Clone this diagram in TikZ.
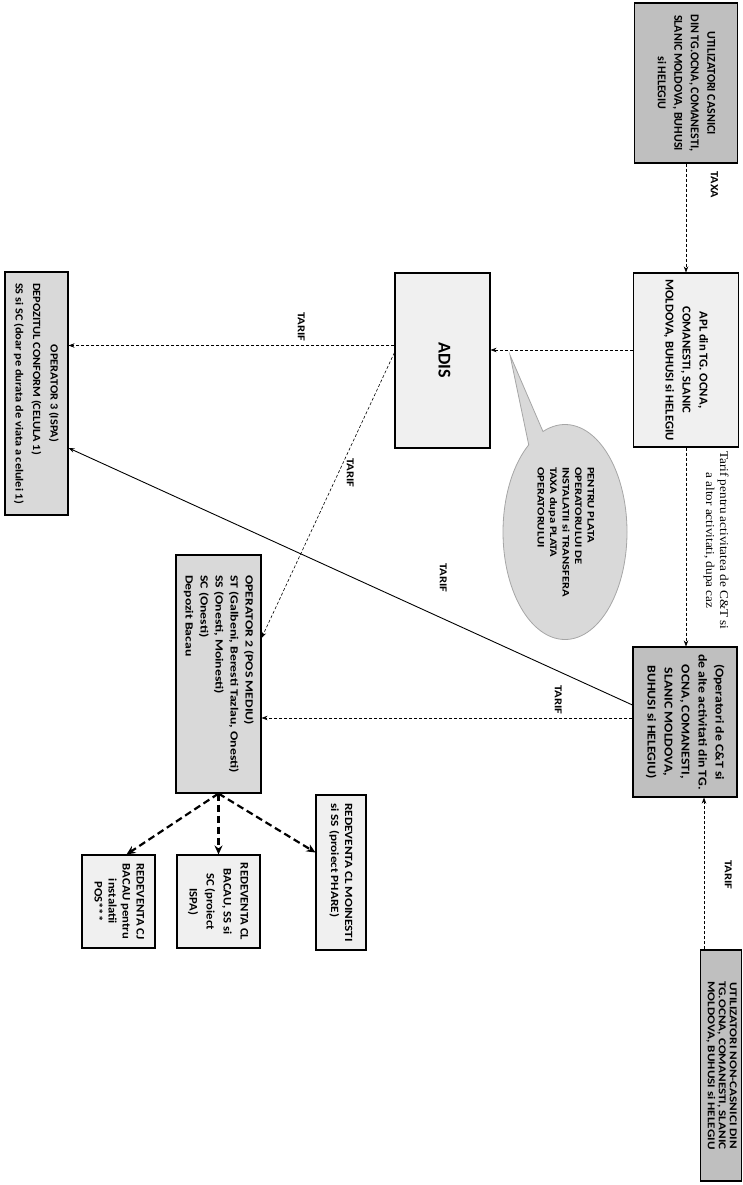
\documentclass[tikz,border=0pt]{standalone}
\usepackage{fontspec}
\setmainfont{Carlito}
\newfontfamily\serifface{Liberation Serif}
\usepackage{graphicx}
\usetikzlibrary{arrows.meta,shapes.callouts}
\newcommand{\rottext}[5]{\rotatebox{-90}{\scalebox{#4}[1]{\fontsize{#1}{#2}\selectfont\begin{tabular}{@{}#3@{}}#5\end{tabular}}}}
\begin{document}
\begin{tikzpicture}[x=1pt,y=-1pt,
  box/.style={draw, line width=1.1pt, inner sep=0pt, font=\bfseries},
  dark/.style={box, fill=gray!50},
  light/.style={box, fill=gray!12},
  mid/.style={box, fill=gray!30},
  arr/.style={-{Stealth[length=6pt,width=4.5pt]}, line width=0.6pt, densely dashed},
  solidarr/.style={-{Stealth[length=6pt,width=4.5pt]}, line width=0.9pt},
  dasharr/.style={-{Stealth[length=9pt,width=8pt]}, line width=2.2pt, dash pattern=on 7pt off 4pt},
  lbl/.style={inner sep=0pt, font=\bfseries}
]
\useasboundingbox (0,0) rectangle (742,1185);

\node[dark, minimum width=103pt, minimum height=160pt] (u1) at (686,83)
  {\rottext{12}{16.5}{c}{1.0}{UTILIZATORI CASNICI\\DIN TG.OCNA, COMANESTI,\\SLANIC MOLDOVA, BUHUSI\\si HELEGIU}};
\node[light, minimum width=105pt, minimum height=174pt] (apl) at (686,360)
  {\rottext{12}{17}{c}{1.05}{APL din TG. OCNA,\\COMANESTI, SLANIC\\MOLDOVA, BUHUSI si HELEGIU}};
\node[light, minimum width=95pt, minimum height=175pt] (adis) at (442.5,360.5)
  {\rottext{18}{20}{c}{1}{ADIS}};
\node[mid, minimum width=63pt, minimum height=243pt] (op3) at (36.5,393.5)
  {\rottext{11}{17.5}{l}{1.12}{\multicolumn{1}{c}{OPERATOR 3 (ISPA)}\\DEPOZITUL CONFORM (CELULA 1)\\SS si SC (doar pe durata de viata a celulei 1)}};
\node[dark, minimum width=104pt, minimum height=150pt] (op1) at (685,722)
  {\rottext{12}{17}{c}{1.15}{(Operatori de C\&T si\\de alte activitati din TG.\\OCNA, COMANESTI,\\SLANIC MOLDOVA,\\BUHUSI si HELEGIU)}};
\node[dark, minimum width=41pt, minimum height=231pt] (u2) at (721,1065.5)
  {\rottext{10.5}{11}{c}{1.25}{UTILIZATORI NON-CASNICI DIN\\TG.OCNA, COMANESTI, SLANIC\\MOLDOVA, BUHUSI si HELEGIU}};
\node[mid, minimum width=85pt, minimum height=238pt] (op2) at (218.5,674)
  {\rottext{11}{15}{l}{1.25}{OPERATOR 2 (POS MEDIU)\\ST (Galbeni, Beresti Tazlau, Onesti)\\SS (Onesti, Moinesti)\\SC (Onesti)\\Depozit Bacau}};
\node[light, minimum width=50pt, minimum height=155pt] (r1) at (341,872.5)
  {\rottext{11}{14}{l}{1.2}{REDEVENTA CL MOINESTI\\si SS (proiect PHARE)}};
\node[light, minimum width=83pt, minimum height=93pt] (r2) at (218.5,901.5)
  {\rottext{11.5}{17}{c}{1.1}{REDEVENTA CL\\BACAU, SS si\\SC (proiect\\ISPA)}};
\node[light, minimum width=73pt, minimum height=93pt] (r3) at (118.5,901.5)
  {\rottext{11.5}{14}{c}{1.1}{REDEVENTA CJ\\BACAU pentru\\instalatii\\POS***}};

\coordinate (tip) at (510,355);
\node[ellipse callout, draw=gray!70, line width=0.8pt, fill=gray!30, minimum width=124pt, minimum height=215pt,
  inner sep=0pt, callout absolute pointer={(tip)}, font=\bfseries] (bub) at (565,532)
  {\rottext{10}{12.5}{l}{1.25}{PENTRU PLATA\\OPERATORULUI DE\\INSTALATII si TRANSFERA\\TAXA dupa PLATA\\OPERATORULUI}};

% connectors
\draw[arr] (u1) -- (apl);
\draw[arr] (apl.south) -- (apl.south |- op1.north);
\coordinate (a1) at ([yshift=10pt]apl.west);
\draw[arr] (a1) -- (a1 -| adis.east);
\coordinate (b1) at ([yshift=15pt]adis.west);
\draw[arr] (b1) -- (b1 -| op3.east);
\coordinate (b2) at ([yshift=8pt]adis.west);
\coordinate (c2) at ([yshift=36pt]op2.east);
\draw[arr] (b2) -- (c2);
\coordinate (d1) at ([yshift=4pt]op1.west);
\draw[arr] (d1) -- (d1 -| op2.east);
\coordinate (d2) at ([yshift=17pt]op1.west);
\coordinate (e2) at ([yshift=-54.5pt]op3.east);
\draw[solidarr] (d2) -- (e2);
\coordinate (u2in) at ([xshift=-17pt]u2.north);
\draw[arr] (u2in) -- (u2in |- op1.south);
\draw[dasharr] (op2.south) -- ([xshift=8pt]r3.north);
\draw[dasharr] (op2.south) -- (r2.north);
\draw[dasharr] (op2.south) -- ([yshift=20pt]r1.west);

% labels
\node[lbl] (taxa) at (713,185) {\rottext{11}{11}{c}{1.1}{TAXA}};
\node[inner sep=0pt, anchor=north, font=\serifface] (tl) at (716,451)
  {\rottext{12}{14}{c}{1.1}{Tarif pentru activitatea de C\&T si\\a altor activitati, dupa caz}};
\node[lbl] (t1) at (300,327) {\rottext{10.5}{10.5}{c}{1.2}{TARIF}};
\node[lbl] (t2) at (349,473) {\rottext{10.5}{10.5}{c}{1.2}{TARIF}};
\node[lbl] (t3) at (442,578) {\rottext{10.5}{10.5}{c}{1.2}{TARIF}};
\node[lbl] (t4) at (557,700) {\rottext{10.5}{10.5}{c}{1.2}{TARIF}};
\node[lbl] (t5) at (727,875) {\rottext{10.5}{10.5}{c}{1.2}{TARIF}};
\end{tikzpicture}
\end{document}
